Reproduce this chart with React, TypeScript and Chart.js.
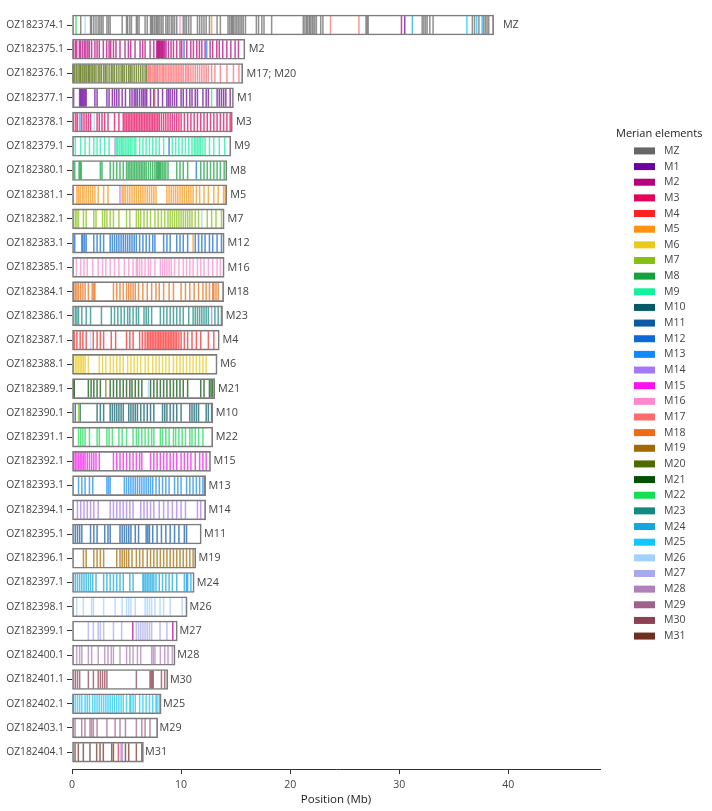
import React, { useEffect, useRef } from 'react';
import { Chart, registerables } from 'chart.js';

Chart.register(...registerables);

// Chromosomes (top to bottom), their lengths in Mb and the Merian element each one is assigned to
const chromosomes = [
  'OZ182374.1', 'OZ182375.1', 'OZ182376.1', 'OZ182377.1', 'OZ182378.1', 'OZ182379.1',
  'OZ182380.1', 'OZ182381.1', 'OZ182382.1', 'OZ182383.1', 'OZ182385.1', 'OZ182384.1',
  'OZ182386.1', 'OZ182387.1', 'OZ182388.1', 'OZ182389.1', 'OZ182390.1', 'OZ182391.1',
  'OZ182392.1', 'OZ182393.1', 'OZ182394.1', 'OZ182395.1', 'OZ182396.1', 'OZ182397.1',
  'OZ182398.1', 'OZ182399.1', 'OZ182400.1', 'OZ182401.1', 'OZ182402.1', 'OZ182403.1',
  'OZ182404.1',
];
const lengthsMb = [
  38.65, 15.85, 15.65, 14.8, 14.7, 14.56, 14.2, 14.2, 13.95, 13.95, 13.95, 13.9, 13.8,
  13.5, 13.3, 13.1, 12.9, 12.9, 12.7, 12.25, 12.25, 11.85, 11.35, 11.2, 10.55, 9.65,
  9.45, 8.78, 8.17, 7.85, 6.55,
];
const assignments = [
  'MZ', 'M2', 'M17; M20', 'M1', 'M3', 'M9', 'M8', 'M5', 'M7', 'M12', 'M16', 'M18', 'M23',
  'M4', 'M6', 'M21', 'M10', 'M22', 'M15', 'M13', 'M14', 'M11', 'M19', 'M24', 'M26', 'M27',
  'M28', 'M30', 'M25', 'M29', 'M31',
];

// Merian element palette
const elements = [
  'MZ', 'M1', 'M2', 'M3', 'M4', 'M5', 'M6', 'M7', 'M8', 'M9', 'M10', 'M11', 'M12', 'M13',
  'M14', 'M15', 'M16', 'M17', 'M18', 'M19', 'M20', 'M21', 'M22', 'M23', 'M24', 'M25',
  'M26', 'M27', 'M28', 'M29', 'M30', 'M31',
];
const elementColors = [
  '#666666', '#6c00a0', '#b8007e', '#e6005c', '#ff2222', '#ff9211', '#e9cb1c', '#86c012',
  '#12a33f', '#13f09e', '#065a68', '#0c5aa6', '#0c6ad6', '#1089ff', '#a678f8', '#fb10ef',
  '#ff88ce', '#ff6a6c', '#ef6b12', '#a26a00', '#516a00', '#055005', '#12e050', '#128a80',
  '#12a8de', '#12c6ff', '#a2d0ff', '#a8a8ec', '#b080ba', '#a0618a', '#8c4052', '#6e3020',
];

// Gene positions (Mb) on each chromosome, grouped by Merian element
const genesMZ_374 = [0.8, 1.7, 1.8, 2.0, 2.2, 2.4, 2.55, 2.7, 2.85, 3.2, 3.35, 3.5, 4.6, 5.0, 5.1, 5.3, 5.45, 5.9, 6.0, 6.15, 6.7, 6.9, 7.2, 7.3, 7.4, 7.55, 7.7, 7.8, 7.9, 8.05, 8.2, 8.35, 8.6, 8.75, 8.9, 9.1, 9.25, 9.4, 9.6, 10.2, 10.35, 10.5, 10.7, 10.9, 11.5, 11.7, 11.9, 12.1, 12.3, 12.6, 13.3, 13.6, 14.3, 14.45, 14.6, 14.7, 14.8, 14.95, 15.1, 15.25, 15.4, 15.55, 15.7, 15.9, 16.9, 17.1, 17.4, 17.6, 18.3, 21.2, 21.35, 21.5, 21.6, 21.75, 21.85, 22.0, 22.1, 22.25, 22.4, 22.8, 23.0, 26.95, 27.05, 27.15, 32.1, 32.25, 32.4, 32.55, 32.8, 33.1, 36.7, 36.9, 37.3, 37.75, 37.9, 38.05, 38.2];
const genesM2_375 = [0.12, 0.3, 0.43, 0.67, 0.8, 0.98, 1.15, 1.28, 1.45, 1.59, 1.8, 2.1, 2.3, 2.5, 2.87, 3.18, 3.4, 3.55, 3.8, 4.03, 4.4, 4.86, 5.17, 5.38, 5.78, 6.24, 6.48, 6.7, 7.16, 7.5, 7.77, 7.85, 7.92, 8.0, 8.07, 8.15, 8.23, 8.3, 8.38, 8.5, 8.62, 8.84, 9.08, 9.3, 9.6, 9.9, 10.06, 10.52, 10.89, 11.13, 11.44, 11.68, 11.9, 12.2, 12.66, 12.9, 13.27, 13.5, 13.82, 14.19, 14.56, 14.95, 15.26];
const genesM20_376 = [0.1, 0.25, 0.4, 0.55, 0.7, 0.8, 0.95, 1.1, 1.2, 1.35, 1.5, 1.6, 1.75, 1.9, 2.05, 2.2, 2.4, 2.55, 2.7, 2.9, 3.05, 3.2, 3.4, 3.6, 3.75, 3.9, 4.1, 4.3, 4.5, 4.65, 4.8, 5.0, 5.2, 5.35, 5.5, 5.7, 5.9, 6.1, 6.3, 6.5, 6.7, 6.85];
const genesM17_376 = [7.0, 7.1, 7.2, 7.35, 7.5, 7.6, 7.7, 7.85, 8.0, 8.15, 8.3, 8.4, 8.55, 8.7, 8.85, 9.0, 9.15, 9.3, 9.45, 9.6, 9.75, 9.9, 10.05, 10.2, 10.4, 10.55, 10.7, 10.9, 11.1, 11.3, 11.5, 11.7, 11.9, 12.1, 12.3, 12.5, 12.8, 13.1, 13.6, 14.2, 14.8, 15.3];
const genesM1_377 = [0.15, 0.7, 0.8, 0.9, 1.0, 1.1, 1.2, 1.3, 2.1, 2.3, 3.2, 3.4, 3.7, 3.9, 4.1, 4.3, 4.6, 4.9, 5.3, 5.5, 5.7, 5.85, 6.0, 6.2, 6.4, 6.55, 6.7, 6.85, 7.2, 7.5, 7.9, 8.3, 8.7, 8.85, 9.0, 9.2, 9.4, 9.6, 10.0, 10.2, 10.5, 10.8, 11.0, 11.3, 11.5, 12.0, 12.3, 12.5, 13.3, 13.5, 13.7, 13.9, 14.1, 14.5];
const genesM3_378 = [0.15, 0.35, 0.5, 0.9, 1.1, 1.3, 1.5, 1.7, 2.3, 2.5, 2.75, 3.0, 3.3, 3.9, 4.3, 4.7, 4.85, 5.0, 5.15, 5.3, 5.45, 5.6, 5.75, 5.9, 6.05, 6.2, 6.35, 6.5, 6.65, 6.8, 6.95, 7.1, 7.25, 7.4, 7.55, 7.7, 7.85, 8.0, 8.2, 8.4, 8.6, 8.8, 9.0, 9.2, 9.4, 9.6, 9.8, 10.0, 10.3, 10.6, 10.9, 11.2, 11.5, 11.8, 12.1, 12.4, 12.7, 13.0, 13.3, 13.6, 13.9, 14.2, 14.5];
const genesM9_379 = [0.3, 0.8, 1.2, 1.6, 2.0, 2.3, 2.6, 3.0, 3.4, 4.1, 4.2, 4.35, 4.5, 4.6, 4.75, 4.9, 5.05, 5.2, 5.35, 5.5, 5.7, 5.85, 6.2, 6.5, 6.8, 7.1, 7.4, 7.7, 8.0, 8.4, 9.2, 9.5, 9.8, 10.1, 10.4, 10.7, 11.0, 11.2, 11.35, 11.5, 11.65, 11.8, 12.0, 12.2, 12.6, 13.0, 13.5, 14.0];
const genesM8_380 = [0.25, 0.65, 0.75, 0.85, 2.6, 2.75, 3.5, 3.8, 4.1, 4.4, 4.7, 5.0, 5.15, 5.3, 5.45, 5.6, 5.75, 5.9, 6.05, 6.2, 6.35, 6.5, 6.65, 6.8, 7.0, 7.2, 7.4, 7.6, 7.75, 7.85, 7.95, 8.05, 8.15, 8.3, 8.45, 8.6, 8.8, 9.6, 9.9, 10.2, 10.6, 11.8, 12.1, 12.4, 12.7, 13.0, 13.3, 13.6, 13.95];
const genesM5_381 = [0.45, 0.6, 0.75, 0.95, 1.1, 1.3, 1.5, 1.7, 1.9, 2.1, 2.4, 2.9, 3.3, 4.6, 4.75, 4.9, 5.1, 5.3, 5.5, 5.7, 5.9, 6.1, 6.3, 6.5, 6.7, 6.9, 7.1, 7.3, 7.5, 7.7, 8.7, 8.9, 9.1, 9.3, 9.5, 9.7, 9.9, 10.1, 10.3, 10.5, 10.7, 10.9, 11.1, 11.4, 11.7, 12.1, 12.5, 13.0, 13.4, 13.9, 14.05];
const genesM7_382 = [0.3, 0.45, 0.6, 1.05, 1.3, 2.0, 2.2, 2.8, 3.0, 3.2, 3.5, 3.8, 4.3, 5.0, 5.3, 5.9, 6.1, 6.3, 6.6, 6.9, 7.2, 7.6, 7.9, 8.2, 8.5, 8.8, 9.0, 9.2, 9.4, 9.6, 9.8, 10.0, 10.2, 10.4, 10.6, 10.8, 11.0, 11.3, 11.6, 12.4, 12.8, 13.2, 13.7];
const genesM12_383 = [0.25, 0.9, 1.0, 1.15, 1.3, 2.0, 2.3, 2.6, 2.9, 3.5, 3.7, 3.9, 4.1, 4.3, 4.5, 4.7, 4.9, 5.1, 5.3, 5.5, 5.7, 5.9, 6.2, 6.5, 6.8, 7.1, 7.4, 7.6, 8.4, 8.7, 9.0, 9.6, 9.9, 10.2, 10.6, 11.3, 11.6, 11.9, 12.2, 12.6, 12.9, 13.3, 13.7];
const genesM16_385 = [0.4, 0.8, 1.1, 1.4, 1.9, 2.4, 2.8, 3.1, 3.5, 3.9, 4.3, 4.8, 5.2, 5.6, 5.9, 6.0, 6.2, 6.4, 6.7, 7.0, 7.2, 7.6, 8.1, 8.3, 8.5, 8.7, 8.9, 9.1, 9.4, 9.8, 10.2, 10.5, 10.8, 11.1, 11.5, 11.8, 12.1, 12.5, 12.9, 13.3, 13.6];
const genesM18_384 = [0.15, 0.3, 0.45, 0.6, 0.8, 1.0, 1.2, 1.5, 1.85, 2.0, 2.1, 3.8, 4.1, 4.4, 4.7, 5.0, 5.2, 5.4, 5.6, 5.8, 6.1, 6.5, 6.9, 7.3, 7.7, 8.0, 8.4, 8.9, 9.3, 10.0, 10.4, 10.8, 11.2, 11.6, 12.0, 12.3, 12.6, 12.9, 13.0, 13.2, 13.4];
const genesM23_386 = [0.3, 0.45, 0.6, 0.9, 1.3, 1.7, 2.7, 3.6, 3.9, 4.2, 4.5, 4.8, 5.1, 5.3, 5.6, 5.9, 6.1, 6.6, 6.8, 7.0, 7.3, 8.1, 8.4, 8.7, 9.0, 9.3, 9.6, 9.9, 10.2, 10.7, 11.1, 11.3, 11.5, 11.7, 11.9, 12.1, 12.3, 12.5, 13.1, 13.4];
const genesM4_387 = [0.2, 0.45, 0.75, 1.0, 1.3, 1.95, 2.3, 2.6, 2.9, 3.6, 4.0, 5.0, 5.3, 5.6, 6.2, 6.45, 6.7, 6.9, 7.05, 7.2, 7.35, 7.5, 7.65, 7.8, 7.95, 8.1, 8.25, 8.4, 8.55, 8.7, 8.85, 9.0, 9.15, 9.3, 9.45, 9.6, 9.8, 10.0, 10.3, 10.6, 11.0, 11.4, 11.8, 12.5, 13.0];
const genesM6_388 = [0.1, 0.3, 0.45, 0.6, 0.75, 0.9, 1.05, 1.2, 1.5, 2.5, 2.8, 3.1, 3.5, 3.8, 4.1, 4.4, 4.7, 5.1, 5.4, 5.7, 6.0, 6.3, 6.7, 7.0, 7.4, 7.7, 8.0, 8.3, 8.6, 8.9, 9.3, 9.6, 9.9, 10.2, 10.5, 10.8, 11.1, 11.4, 11.7, 12.0, 12.3];
const genesM21_389 = [0.15, 0.2, 1.5, 1.75, 2.0, 2.3, 2.6, 3.5, 3.8, 4.1, 4.4, 4.7, 5.0, 5.3, 5.5, 5.8, 6.1, 6.4, 7.2, 7.5, 7.8, 8.1, 8.4, 8.7, 9.0, 9.3, 9.6, 9.9, 10.2, 10.6, 11.8, 12.1, 12.6, 12.75, 12.9];
const genesM10_390 = [0.3, 0.75, 2.3, 2.6, 2.9, 3.5, 3.7, 3.9, 4.1, 4.3, 4.5, 4.7, 5.2, 5.4, 5.6, 5.8, 6.0, 6.3, 6.6, 6.9, 7.2, 7.5, 8.3, 8.5, 8.7, 9.0, 9.3, 9.6, 10.0, 10.8, 11.0, 11.2, 11.4, 11.6, 12.3, 12.5, 12.8];
const genesM22_391 = [0.6, 0.8, 1.0, 1.2, 1.6, 2.3, 2.5, 3.2, 3.4, 3.7, 4.3, 4.6, 5.0, 5.6, 5.9, 6.1, 6.4, 6.7, 7.0, 7.3, 7.5, 8.1, 8.3, 8.6, 8.9, 9.3, 9.5, 9.8, 10.1, 10.4, 10.8, 11.0, 11.3, 11.6, 12.0];
const genesM15_392 = [0.15, 0.3, 0.45, 0.6, 0.75, 0.9, 1.05, 1.2, 1.4, 1.6, 1.8, 2.0, 2.2, 2.5, 3.8, 4.1, 4.4, 4.7, 5.0, 5.3, 5.6, 5.9, 6.2, 6.4, 7.2, 7.5, 7.8, 8.1, 8.4, 8.7, 9.0, 9.3, 9.6, 10.0, 10.3, 10.6, 10.9, 11.3, 11.7, 12.0, 12.3];
const genesM13_393 = [0.6, 0.9, 1.2, 1.6, 1.9, 3.2, 3.35, 3.5, 4.8, 5.0, 5.2, 5.4, 5.6, 5.8, 6.0, 6.2, 6.4, 6.6, 6.8, 7.0, 7.2, 7.4, 7.7, 8.0, 8.3, 8.6, 8.9, 9.4, 9.7, 10.0, 10.5, 10.8, 11.1, 11.4, 11.7, 12.0];
const genesM14_394 = [0.5, 0.8, 1.1, 1.4, 1.7, 2.0, 2.4, 3.5, 3.8, 4.1, 4.4, 4.7, 5.0, 5.3, 5.6, 6.3, 6.6, 6.9, 7.2, 7.5, 8.0, 8.4, 8.8, 9.2, 9.6, 10.0, 10.4, 11.5, 11.8];
const genesM11_395 = [0.3, 0.5, 0.7, 0.9, 1.7, 2.0, 2.3, 3.0, 3.3, 3.5, 4.4, 4.6, 4.8, 5.0, 5.2, 5.4, 5.8, 6.1, 6.8, 6.95, 7.1, 7.4, 7.8, 8.2, 8.6, 9.0, 9.4, 9.8, 10.3, 10.5];
const genesM19_396 = [1.05, 1.3, 2.0, 2.3, 2.6, 2.9, 4.1, 4.4, 4.6, 4.8, 5.0, 5.2, 5.5, 5.9, 6.2, 6.5, 6.9, 7.2, 7.5, 7.8, 8.1, 8.4, 8.7, 9.0, 9.3, 9.6, 9.9, 10.2, 10.5, 10.8, 11.1];
const genesM24_397 = [0.3, 0.5, 0.7, 0.9, 1.1, 1.3, 1.5, 1.7, 1.9, 2.2, 2.9, 3.2, 3.5, 3.8, 4.1, 4.4, 4.7, 5.3, 5.6, 6.5, 6.6, 6.75, 6.9, 7.05, 7.2, 7.35, 7.5, 7.7, 8.0, 8.3, 8.6, 8.9, 9.2, 9.6, 10.3, 10.6, 10.9];
const genesM26_398 = [0.43, 1.04, 1.8, 1.96, 2.9, 3.95, 4.6, 5.0, 5.2, 5.4, 5.8, 6.7, 6.9, 7.1, 7.3, 7.6, 8.07, 8.4, 9.0, 10.1, 10.5];
const genesM27_399 = [1.5, 1.96, 2.4, 2.6, 2.9, 3.8, 4.55, 5.9, 6.1, 6.3, 6.5, 6.7, 6.9, 7.1, 7.3, 8.07, 8.7];
const genesM28_400 = [0.43, 0.7, 0.9, 1.5, 1.8, 2.4, 3.0, 3.3, 3.6, 3.8, 4.4, 5.0, 5.3, 5.6, 6.0, 6.3, 7.3, 7.45, 7.6, 8.1, 8.5, 8.8, 9.2];
const genesM30_401 = [0.3, 0.5, 0.7, 1.5, 1.96, 2.4, 2.6, 2.8, 3.0, 3.2, 5.9, 7.15, 7.25, 7.35, 7.45, 8.2, 8.5];
const genesM25_402 = [0.1, 0.3, 0.5, 0.7, 0.9, 1.2, 1.4, 1.6, 1.9, 2.1, 2.3, 2.5, 2.7, 2.9, 3.1, 3.3, 3.5, 3.7, 3.9, 4.1, 4.3, 4.5, 4.7, 5.0, 5.3, 5.4, 5.6, 5.8, 6.2, 6.5, 6.8, 7.1, 7.4, 7.7, 7.8, 8.0];
const genesM29_403 = [0.28, 0.89, 1.19, 1.65, 1.8, 1.96, 2.3, 3.2, 3.95, 4.4, 4.9, 5.9, 6.4, 6.7, 7.15];
const genesM31_404 = [0.28, 0.58, 1.04, 1.65, 2.26, 2.57, 2.87, 3.64, 3.8, 4.9, 5.2, 5.9, 6.4];

// [chromosome, element, positions]
const geneTracks: [string, string, number[]][] = [
  ['OZ182374.1', 'MZ', genesMZ_374],
  ['OZ182375.1', 'M2', genesM2_375],
  ['OZ182376.1', 'M20', genesM20_376],
  ['OZ182376.1', 'M17', genesM17_376],
  ['OZ182377.1', 'M1', genesM1_377],
  ['OZ182378.1', 'M3', genesM3_378],
  ['OZ182379.1', 'M9', genesM9_379],
  ['OZ182380.1', 'M8', genesM8_380],
  ['OZ182381.1', 'M5', genesM5_381],
  ['OZ182382.1', 'M7', genesM7_382],
  ['OZ182383.1', 'M12', genesM12_383],
  ['OZ182385.1', 'M16', genesM16_385],
  ['OZ182384.1', 'M18', genesM18_384],
  ['OZ182386.1', 'M23', genesM23_386],
  ['OZ182387.1', 'M4', genesM4_387],
  ['OZ182388.1', 'M6', genesM6_388],
  ['OZ182389.1', 'M21', genesM21_389],
  ['OZ182390.1', 'M10', genesM10_390],
  ['OZ182391.1', 'M22', genesM22_391],
  ['OZ182392.1', 'M15', genesM15_392],
  ['OZ182393.1', 'M13', genesM13_393],
  ['OZ182394.1', 'M14', genesM14_394],
  ['OZ182395.1', 'M11', genesM11_395],
  ['OZ182396.1', 'M19', genesM19_396],
  ['OZ182397.1', 'M24', genesM24_397],
  ['OZ182398.1', 'M26', genesM26_398],
  ['OZ182399.1', 'M27', genesM27_399],
  ['OZ182400.1', 'M28', genesM28_400],
  ['OZ182401.1', 'M30', genesM30_401],
  ['OZ182402.1', 'M25', genesM25_402],
  ['OZ182403.1', 'M29', genesM29_403],
  ['OZ182404.1', 'M31', genesM31_404],
];

// Single genes sitting outside their own element's chromosome: [chromosome, element, position]
const strayGenes: [string, string, number][] = [
  ['OZ182374.1', 'M22', 0.37], ['OZ182374.1', 'M26', 1.2], ['OZ182374.1', 'M16', 9.9],
  ['OZ182374.1', 'M5', 12.8], ['OZ182374.1', 'M17', 23.7], ['OZ182374.1', 'M17', 26.3],
  ['OZ182374.1', 'M2', 30.2], ['OZ182374.1', 'M1', 30.5], ['OZ182374.1', 'M24', 31.2],
  ['OZ182374.1', 'M25', 36.2], ['OZ182374.1', 'M25', 37.1], ['OZ182374.1', 'M24', 37.6],
  ['OZ182375.1', 'M12', 10.27], ['OZ182375.1', 'M13', 12.35],
  ['OZ182376.1', 'M26', 7.8],
  ['OZ182377.1', 'M9', 12.8], ['OZ182377.1', 'M5', 7.6],
  ['OZ182378.1', 'M13', 0.73], ['OZ182378.1', 'M26', 2.05],
  ['OZ182379.1', 'M14', 3.95], ['OZ182379.1', 'M12', 8.9],
  ['OZ182380.1', 'M12', 11.4],
  ['OZ182381.1', 'M16', 0.12], ['OZ182381.1', 'M14', 4.4],
  ['OZ182382.1', 'M26', 11.9],
  ['OZ182383.1', 'M5', 11.1],
  ['OZ182386.1', 'M14', 12.8], ['OZ182386.1', 'MZ', 13.7],
  ['OZ182387.1', 'M26', 1.7],
  ['OZ182389.1', 'M19', 3.1], ['OZ182389.1', 'M26', 7.0],
  ['OZ182390.1', 'M7', 0.6],
  ['OZ182393.1', 'MZ', 12.15],
  ['OZ182397.1', 'M13', 10.5],
  ['OZ182399.1', 'M2', 5.57], ['OZ182399.1', 'M2', 9.24],
  ['OZ182404.1', 'M4', 4.25], ['OZ182404.1', 'M14', 4.5], ['OZ182404.1', 'M14', 4.6],
];

const FONT = '"Open Sans", "DejaVu Sans", sans-serif';

function withAlpha(hex: string, a: number) {
  const n = parseInt(hex.slice(1), 16);
  return `rgba(${(n >> 16) & 255}, ${(n >> 8) & 255}, ${n & 255}, ${a})`;
}

// Element name printed just past the end of each chromosome
const assignmentLabels = {
  id: 'assignmentLabels',
  afterDatasetsDraw(chart: any) {
    const { ctx } = chart;
    const xs = chart.scales.x;
    const ys = chart.scales.y;
    ctx.save();
    ctx.font = `10.8px ${FONT}`;
    ctx.fillStyle = '#444444';
    ctx.textAlign = 'left';
    ctx.textBaseline = 'middle';
    chromosomes.forEach((_, i) => {
      ctx.fillText(assignments[i], xs.getPixelForValue(lengthsMb[i] * 1.022), ys.getPixelForValue(i));
    });
    ctx.restore();
  },
};

// Colour key for the Merian elements, to the right of the plot
const elementKey = {
  id: 'elementKey',
  afterDraw(chart: any) {
    const { ctx, chartArea } = chart;
    const rowH = 15.65;
    const titleGap = 17;
    const blockH = titleGap + (elements.length - 1) * rowH;
    const titleY = 385 - blockH / 2;
    const x0 = chartArea.right + 16;
    ctx.save();
    ctx.textBaseline = 'middle';
    ctx.textAlign = 'left';
    ctx.font = `11px ${FONT}`;
    ctx.fillStyle = '#1a1a1a';
    ctx.fillText('Merian elements', x0, titleY);
    ctx.font = `10.5px ${FONT}`;
    elements.forEach((el, i) => {
      const y = titleY + titleGap + i * rowH;
      ctx.fillStyle = elementColors[i];
      ctx.fillRect(x0 + 18, y - 3.5, 21, 7);
      ctx.fillStyle = '#444444';
      ctx.fillText(el, x0 + 48, y);
    });
    ctx.restore();
  },
};

export default function App() {
  const canvasRef = useRef<HTMLCanvasElement>(null);

  useEffect(() => {
    document.body.style.margin = '0';
    const canvas = canvasRef.current;
    if (!canvas) return;

    const rowOf = (chrom: string) => chromosomes.indexOf(chrom);

    const geneSets = elements.map((el, ei) => {
      const pts: { x: number; y: number }[] = [];
      geneTracks.forEach(([chrom, e, positions]) => {
        if (e === el) positions.forEach((p) => pts.push({ x: p, y: rowOf(chrom) }));
      });
      strayGenes.forEach(([chrom, e, p]) => {
        if (e === el) pts.push({ x: p, y: rowOf(chrom) });
      });
      return {
        type: 'scatter' as const,
        label: el,
        data: pts,
        order: 1,
        pointStyle: 'line',
        pointRotation: 90,
        pointRadius: 9,
        pointHoverRadius: 9,
        pointBorderColor: withAlpha(elementColors[ei], 0.72),
        pointBackgroundColor: withAlpha(elementColors[ei], 0.72),
        pointBorderWidth: 1.5,
        pointHoverBorderWidth: 1.5,
      };
    });

    const chart = new Chart(canvas, {
      type: 'bar',
      data: {
        datasets: [
          {
            type: 'bar',
            label: 'Chromosome',
            data: lengthsMb.map((l, i) => ({ x: [0, l], y: i })) as any,
            backgroundColor: 'rgba(255,255,255,0)',
            borderColor: '#7c7c7c',
            borderWidth: 1,
            borderSkipped: false,
            barThickness: 20,
            order: 0,
          },
          ...(geneSets as any[]),
        ],
      },
      options: {
        indexAxis: 'y',
        animation: false,
        responsive: true,
        maintainAspectRatio: false,
        events: [],
        layout: { padding: { top: 2.3, right: 112, left: 0, bottom: 0 } },
        plugins: {
          legend: { display: false },
          tooltip: { enabled: false },
        },
        scales: {
          x: {
            type: 'linear',
            min: 0,
            max: 48.4,
            afterBuildTicks: (scale: any) => {
              scale.ticks = scale.ticks.filter((t: any) => t.value % 10 === 0);
            },
            afterFit: (scale: any) => {
              scale.height = 41.85;
            },
            ticks: {
              stepSize: 10,
              color: '#444444',
              font: { family: FONT, size: 10.5 },
              padding: 5,
            },
            grid: { drawOnChartArea: false, tickLength: 5, color: '#333333' },
            border: { color: '#333333', width: 1 },
            title: {
              display: true,
              text: 'Position (Mb)',
              color: '#1a1a1a',
              font: { family: FONT, size: 11.5 },
              padding: { top: 0, bottom: 4 },
            },
          },
          y: {
            type: 'linear',
            reverse: true,
            offset: false,
            min: -0.6,
            max: 30.7,
            afterBuildTicks: (scale: any) => {
              scale.ticks = chromosomes.map((_, i) => ({ value: i }));
            },
            afterFit: (scale: any) => {
              scale.width = 72;
            },
            ticks: {
              autoSkip: false,
              stepSize: 1,
              color: '#444444',
              font: { family: FONT, size: 10.3 },
              padding: 3,
              callback: (value: any) => chromosomes[value] ?? '',
            },
            grid: { drawOnChartArea: false, offset: false, tickLength: 5, color: '#333333' },
            border: { display: false },
          },
        },
      } as any,
      plugins: [assignmentLabels, elementKey],
    });

    return () => chart.destroy();
  }, []);

  return (
    <div style={{ width: 712, height: 811, position: 'relative', background: '#ffffff' }}>
      <canvas ref={canvasRef} />
    </div>
  );
}
